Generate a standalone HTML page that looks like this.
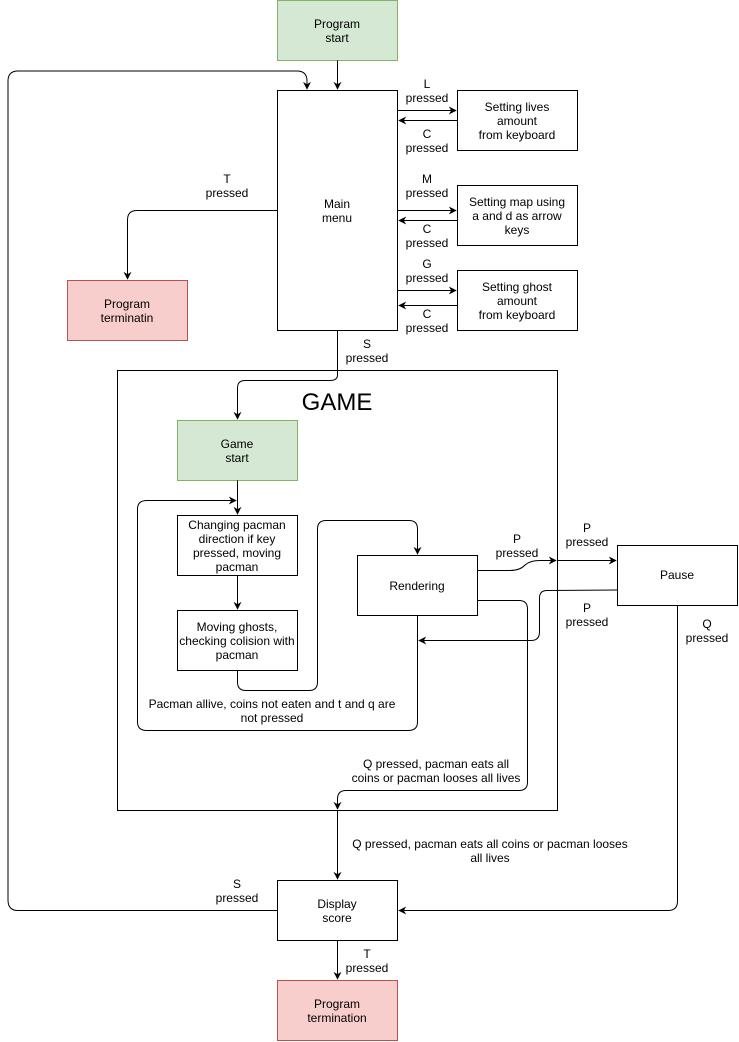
<!DOCTYPE html>
<html><head><meta charset="utf-8"><style>
html,body{margin:0;padding:0;background:#fff;}
svg{display:block;}
text{font-family:"Liberation Sans",Arial,sans-serif;font-size:12px;fill:#000;text-anchor:middle;}
</style></head><body>
<svg width="739" height="1042" viewBox="0 0 739 1042" xmlns="http://www.w3.org/2000/svg">
<defs>
<marker id="a" viewBox="0 0 10 10" refX="9" refY="5" markerWidth="8" markerHeight="8" orient="auto" markerUnits="userSpaceOnUse">
<path d="M0,0 L10,5 L0,10 L3,5 z" fill="#000"/>
</marker>
</defs>
<g fill="none" stroke="#000" stroke-width="1">
<rect x="117.5" y="370.5" width="440" height="440"/>
<rect x="277.5" y="0.5" width="120" height="60" fill="#d5e8d4" stroke="#82b366"/>
<rect x="277.5" y="90.5" width="120" height="240" fill="#fff"/>
<rect x="457.5" y="90.5" width="120" height="60" fill="#fff"/>
<rect x="457.5" y="185.5" width="120" height="60" fill="#fff"/>
<rect x="457.5" y="270.5" width="120" height="60" fill="#fff"/>
<rect x="67.5" y="280.5" width="120" height="60" fill="#f8cecc" stroke="#b85450"/>
<rect x="177.5" y="420.5" width="120" height="60" fill="#d5e8d4" stroke="#82b366"/>
<rect x="177.5" y="515.5" width="120" height="60" fill="#fff"/>
<rect x="177.5" y="610.5" width="120" height="60" fill="#fff"/>
<rect x="357.5" y="555.5" width="120" height="60" fill="#fff"/>
<rect x="617.5" y="545.5" width="120" height="60" fill="#fff"/>
<rect x="277.5" y="880.5" width="120" height="60" fill="#fff"/>
<rect x="277.5" y="980.5" width="120" height="60" fill="#f8cecc" stroke="#b85450"/>

<path d="M337.5,60.5 V89" marker-end="url(#a)"/>
<path d="M277.5,910.5 H18 Q8,910.5 8,900 V81 Q8,71 18,71 H297 Q307,71 307,81 V89" marker-end="url(#a)"/>
<path d="M397.5,110.5 H456" marker-end="url(#a)"/>
<path d="M457.5,120.5 H399" marker-end="url(#a)"/>
<path d="M397.5,210.5 H456" marker-end="url(#a)"/>
<path d="M457.5,220.5 H399" marker-end="url(#a)"/>
<path d="M397.5,290.5 H456" marker-end="url(#a)"/>
<path d="M457.5,305.5 H399" marker-end="url(#a)"/>
<path d="M277.5,210.5 H137 Q127.5,210.5 127.5,220 V279" marker-end="url(#a)"/>
<path d="M337.5,330.5 V375 Q337.5,380.5 330,380.5 H245 Q237.5,380.5 237.5,388 V419" marker-end="url(#a)"/>
<path d="M237.5,480.5 V514" marker-end="url(#a)"/>
<path d="M417.5,615.5 V722 Q417.5,730.5 408,730.5 H147 Q137.5,730.5 137.5,722 V509 Q137.5,500.5 147,500.5 H236" marker-end="url(#a)"/>
<path d="M237.5,575.5 V609" marker-end="url(#a)"/>
<path d="M237.5,670.5 V682 Q237.5,690.5 246,690.5 H309 Q317.5,690.5 317.5,682 V529 Q317.5,520.5 326,520.5 H409 Q417.5,520.5 417.5,529 V554" marker-end="url(#a)"/>
<path d="M477.5,570.5 H510 Q520,570.5 525,565 Q530,560.5 540,560.5 H556" marker-end="url(#a)"/>
<path d="M557.5,560.5 H616" marker-end="url(#a)"/>
<path d="M617.5,590 L547,590.5 Q539.5,590.5 539.5,598 V632 Q539.5,640.5 531,640.5 H419" marker-end="url(#a)"/>
<path d="M477.5,600.5 H519 Q527.5,600.5 527.5,609 V782 Q527.5,790.5 519,790.5 H346 Q337.5,790.5 337.5,799 V809" marker-end="url(#a)"/>
<path d="M337.5,810.5 V879" marker-end="url(#a)"/>
<path d="M677.5,605.5 V901 Q677.5,910.5 668,910.5 H399" marker-end="url(#a)"/>
<path d="M337.5,940.5 V979" marker-end="url(#a)"/>
</g>

<text x="337" y="28">Program</text><text x="337" y="42">start</text>
<text x="337" y="208">Main</text><text x="337" y="222">menu</text>
<text x="517" y="111">Setting lives</text><text x="517" y="125">amount</text><text x="517" y="139">from keyboard</text>
<text x="517" y="206">Setting map using</text><text x="517" y="220">a and d as arrow</text><text x="517" y="234">keys</text>
<text x="517" y="291">Setting ghost</text><text x="517" y="305">amount</text><text x="517" y="319">from keyboard</text>
<text x="127" y="308">Program</text><text x="127" y="322">terminatin</text>
<text x="427" y="88">L</text><text x="427" y="102">pressed</text>
<text x="427" y="138">C</text><text x="427" y="152">pressed</text>
<text x="427" y="183">M</text><text x="427" y="197">pressed</text>
<text x="427" y="233">C</text><text x="427" y="247">pressed</text>
<text x="427" y="268">G</text><text x="427" y="282">pressed</text>
<text x="427" y="318">C</text><text x="427" y="332">pressed</text>
<text x="227" y="183">T</text><text x="227" y="197">pressed</text>
<text x="367" y="348">S</text><text x="367" y="362">pressed</text>
<text x="337" y="410" style="font-size:24px">GAME</text>
<text x="237" y="448">Game</text><text x="237" y="462">start</text>
<text x="237" y="529">Changing pacman</text><text x="237" y="543">direction if key</text><text x="237" y="557">pressed, moving</text><text x="237" y="571">pacman</text>
<text x="237" y="631">Moving ghosts,</text><text x="237" y="645">checking colision with</text><text x="237" y="659">pacman</text>
<text x="417" y="590">Rendering</text>
<text x="677" y="579">Pause</text>
<text x="272" y="708">Pacman allive, coins not eaten and t and q are</text><text x="272" y="722">not pressed</text>
<text x="517" y="543">P</text><text x="517" y="557">pressed</text>
<text x="587" y="532">P</text><text x="587" y="546">pressed</text>
<text x="587" y="612">P</text><text x="587" y="626">pressed</text>
<text x="707" y="628">Q</text><text x="707" y="642">pressed</text>
<text x="436" y="768">Q pressed, pacman eats all</text><text x="436" y="782">coins or pacman looses all lives</text>
<text x="490" y="848">Q pressed, pacman eats all coins or pacman looses</text><text x="490" y="862">all lives</text>
<text x="237" y="888">S</text><text x="237" y="902">pressed</text>
<text x="337" y="908">Display</text><text x="337" y="922">score</text>
<text x="367" y="958">T</text><text x="367" y="972">pressed</text>
<text x="337" y="1008">Program</text><text x="337" y="1022">termination</text>
</svg>
</body></html>
